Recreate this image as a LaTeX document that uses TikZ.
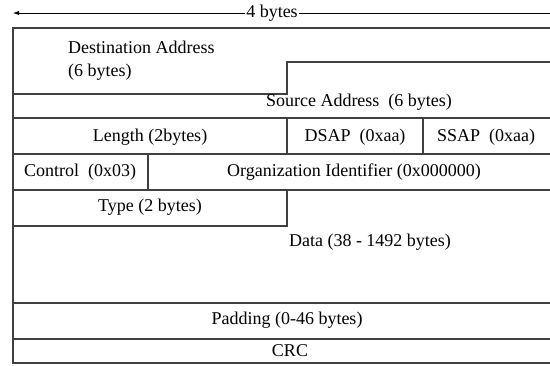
\documentclass[tikz,border=0pt]{standalone}
\usepackage{fontspec}
\setmainfont{Liberation Serif}
\usetikzlibrary{arrows.meta, positioning}

\begin{document}
\begin{tikzpicture}[x=1pt, y=-1pt]

\tikzset{
  field/.style={inner sep=1pt, font=\fontsize{18}{21}\selectfont},
  frame/.style={draw=black!75, line width=1.1pt},
  >={Latex[length=6pt, width=4.5pt]}
}

\useasboundingbox (0,0) rectangle (550,365);

% --- Breite oben ---
\coordinate (lft) at (13,13);
\coordinate (rgt) at (550,13);
\node[field] (width) at (272,13) {4 bytes};
\draw[->, line width=1pt] (width.west) -- (lft);
\draw[line width=1pt] (width.east) -- (rgt);

% --- Rahmen ---
\draw[frame] (550,28) -- (13,28) -- (13,363) -- (550,363);
\draw[frame] (13,94) -- (287,94) -- (287,62) -- (550,62);
\foreach \y in {118,154,190,303,339}
  \draw[frame] (13,\y) -- (550,\y);
\draw[frame] (287,118) -- (287,154);
\draw[frame] (423,118) -- (423,154);
\draw[frame] (148,154) -- (148,190);
\draw[frame] (13,226) -- (287,226) -- (287,190);

% --- Felder ---
\node[field, anchor=west] (dst) at (67,47) {Destination Address};
\node[field, anchor=west] (dstlen) at (67,72) {(6 bytes)};
\node[field] (src) at (359,102) {Source Address\ \ (6 bytes)};
\node[field] (len) at (150,137) {Length (2bytes)};
\node[field] (dsap) at (355,137) {DSAP\ \ (0xaa)};
\node[field] (ssap) at (486,137) {SSAP\ \ (0xaa)};
\node[field] (ctrl) at (80,172) {Control\ \ (0x03)};
\node[field] (org) at (354,172) {Organization Identifier\ (0x000000)};
\node[field] (type) at (150,207) {Type (2 bytes)};
\node[field] (data) at (370,242) {Data (38 - 1492 bytes)};
\node[field] (pad) at (287,320) {Padding (0-46 bytes)};
\node[field] (crc) at (290,351) {CRC};

\end{tikzpicture}
\end{document}
